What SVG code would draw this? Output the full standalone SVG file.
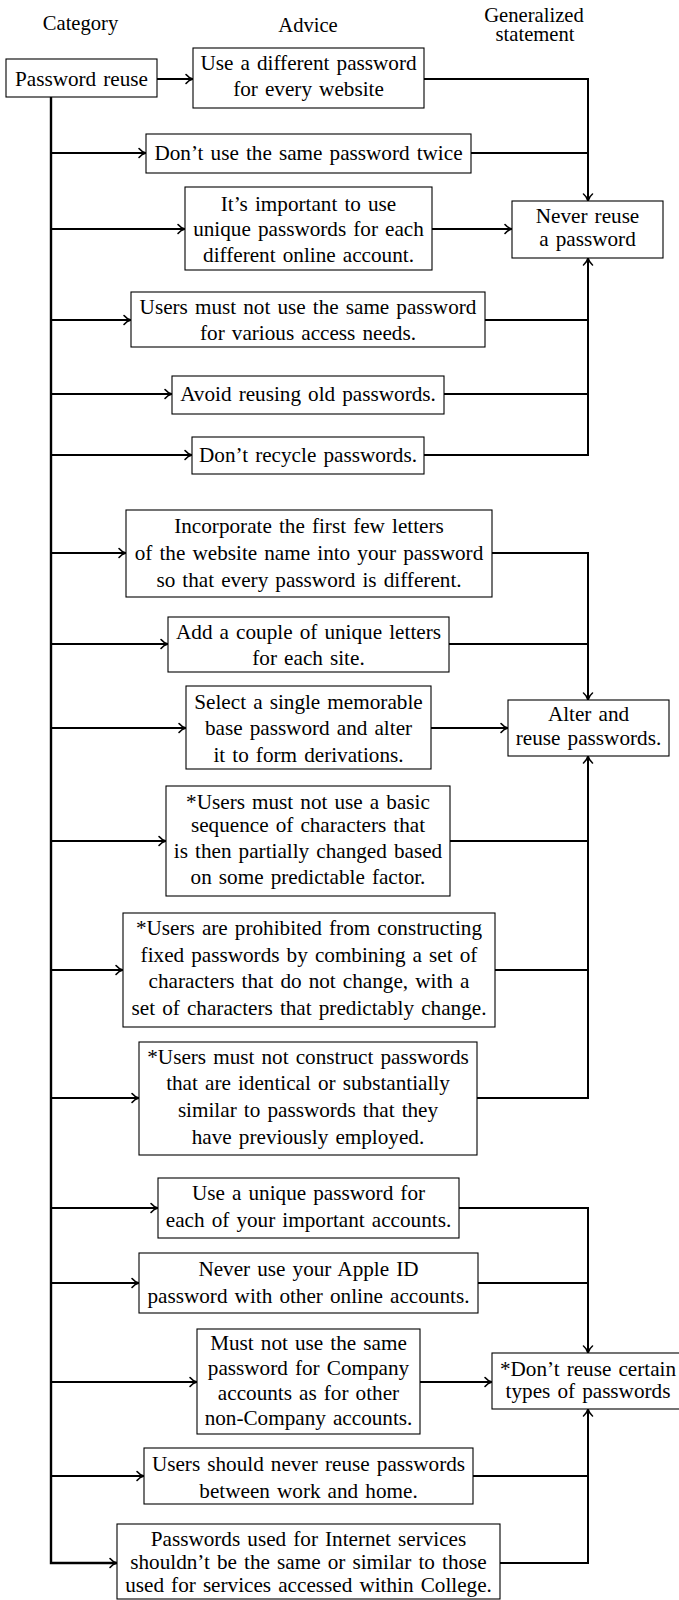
<svg xmlns="http://www.w3.org/2000/svg" width="679" height="1600" viewBox="0 0 679 1600">
<style>
  text { font-family: "Liberation Serif", "Times New Roman", serif; font-size: 21.2px; fill: #000; text-anchor: middle; word-spacing: 1.8px; }
  .hdr { font-size: 20.6px; }
  .box { fill: #fff; stroke: #000; stroke-width: 1.1; }
  .con { fill: none; stroke: #000; stroke-width: 2; stroke-linejoin: miter; }
  .arr { marker-end: url(#tip); }
</style>
<defs>
  <marker id="tip" viewBox="-9 -6 11 12" refX="0" refY="0" markerWidth="11" markerHeight="12" markerUnits="userSpaceOnUse" orient="auto">
    <path d="M-7,-4.5 C-5,-2 -2,-0.5 0,0 C-2,0.5 -5,2 -7,4.5" fill="none" stroke="#000" stroke-width="1.6" stroke-linecap="round"/>
  </marker>
</defs>
<rect width="679" height="1600" fill="#fff"/>

<g id="headers">
  <text class="hdr" x="80.5" y="30">Category</text>
  <text class="hdr" x="308" y="31.5">Advice</text>
  <text class="hdr" x="534" y="21.5">Generalized</text>
  <text class="hdr" x="535" y="40.5">statement</text>
</g>

<g id="connectors">
  <path class="con arr" d="M51,97 V1563 H117" style="stroke-width:2.4"/>
  <path class="con arr" d="M157,79 H193"/>
  <path class="con arr" d="M51,153 H146"/>
  <path class="con arr" d="M51,229 H185"/>
  <path class="con arr" d="M51,320 H131"/>
  <path class="con arr" d="M51,394 H172"/>
  <path class="con arr" d="M51,455 H192"/>
  <path class="con arr" d="M51,553 H126"/>
  <path class="con arr" d="M51,644 H168"/>
  <path class="con arr" d="M51,728 H186"/>
  <path class="con arr" d="M51,841 H166"/>
  <path class="con arr" d="M51,970 H123"/>
  <path class="con arr" d="M51,1098 H139"/>
  <path class="con arr" d="M51,1208 H158"/>
  <path class="con arr" d="M51,1283 H139"/>
  <path class="con arr" d="M51,1382 H197"/>
  <path class="con arr" d="M51,1476 H144"/>

  <path class="con arr" d="M424,79 H588 V201"/>
  <path class="con" d="M471,153 H588"/>
  <path class="con arr" d="M432,229 H512"/>
  <path class="con" d="M485,320 H588"/>
  <path class="con" d="M444,394 H588"/>
  <path class="con arr" d="M424,455 H588 V258"/>

  <path class="con arr" d="M492,553 H588 V700"/>
  <path class="con" d="M449,644 H588"/>
  <path class="con arr" d="M431,728 H508"/>
  <path class="con" d="M450,841 H588"/>
  <path class="con" d="M495,970 H588"/>
  <path class="con arr" d="M477,1098 H588 V756"/>

  <path class="con arr" d="M459,1208 H588 V1353"/>
  <path class="con" d="M478,1283 H588"/>
  <path class="con arr" d="M420,1382 H492"/>
  <path class="con" d="M473,1476 H588"/>
  <path class="con arr" d="M500,1563 H588 V1409"/>
</g>

<g id="n-category">
  <rect class="box" x="6" y="59" width="151" height="38"/>
  <text x="81.5" y="85.5">Password reuse</text>
</g>

<g id="n-a1">
  <rect class="box" x="193" y="48" width="231" height="60"/>
  <text x="308.5" y="69.5">Use a different password</text>
  <text x="308.5" y="96">for every website</text>
</g>
<g id="n-a2">
  <rect class="box" x="146" y="134" width="325" height="39"/>
  <text x="308.5" y="159.5">Don’t use the same password twice</text>
</g>
<g id="n-a3">
  <rect class="box" x="185" y="187" width="247" height="83"/>
  <text x="308.5" y="210.5">It’s important to use</text>
  <text x="308.5" y="236">unique passwords for each</text>
  <text x="308.5" y="262">different online account.</text>
</g>
<g id="n-a4">
  <rect class="box" x="131" y="292" width="354" height="55"/>
  <text x="308" y="313.5">Users must not use the same password</text>
  <text x="308" y="340">for various access needs.</text>
</g>
<g id="n-a5">
  <rect class="box" x="172" y="376" width="272" height="38"/>
  <text x="308" y="400.5">Avoid reusing old passwords.</text>
</g>
<g id="n-a6">
  <rect class="box" x="192" y="437" width="232" height="37"/>
  <text x="308" y="461.5">Don’t recycle passwords.</text>
</g>
<g id="n-g1">
  <rect class="box" x="512" y="201" width="151" height="57"/>
  <text x="587.5" y="223">Never reuse</text>
  <text x="587.5" y="246">a password</text>
</g>

<g id="n-b1">
  <rect class="box" x="126" y="510" width="366" height="87"/>
  <text x="309" y="533">Incorporate the first few letters</text>
  <text x="309" y="560">of the website name into your password</text>
  <text x="309" y="587">so that every password is different.</text>
</g>
<g id="n-b2">
  <rect class="box" x="168" y="617" width="281" height="55"/>
  <text x="308.5" y="638.5">Add a couple of unique letters</text>
  <text x="308.5" y="665">for each site.</text>
</g>
<g id="n-b3">
  <rect class="box" x="186" y="686" width="245" height="83"/>
  <text x="308.5" y="708.5">Select a single memorable</text>
  <text x="308.5" y="735">base password and alter</text>
  <text x="308.5" y="761.5">it to form derivations.</text>
</g>
<g id="n-b4">
  <rect class="box" x="166" y="786" width="284" height="110"/>
  <text x="308" y="808.5">*Users must not use a basic</text>
  <text x="308" y="832">sequence of characters that</text>
  <text x="308" y="857.5">is then partially changed based</text>
  <text x="308" y="884">on some predictable factor.</text>
</g>
<g id="n-b5">
  <rect class="box" x="123" y="913" width="372" height="114"/>
  <text x="309" y="935">*Users are prohibited from constructing</text>
  <text x="309" y="961.5">fixed passwords by combining a set of</text>
  <text x="309" y="988">characters that do not change, with a</text>
  <text x="309" y="1015">set of characters that predictably change.</text>
</g>
<g id="n-b6">
  <rect class="box" x="139" y="1042" width="338" height="113"/>
  <text x="308" y="1063.5">*Users must not construct passwords</text>
  <text x="308" y="1090">that are identical or substantially</text>
  <text x="308" y="1117">similar to passwords that they</text>
  <text x="308" y="1144">have previously employed.</text>
</g>
<g id="n-g2">
  <rect class="box" x="508" y="700" width="161" height="56"/>
  <text x="588.5" y="721">Alter and</text>
  <text x="588.5" y="745">reuse passwords.</text>
</g>

<g id="n-c1">
  <rect class="box" x="158" y="1178" width="301" height="60"/>
  <text x="308.5" y="1200">Use a unique password for</text>
  <text x="308.5" y="1226.5">each of your important accounts.</text>
</g>
<g id="n-c2">
  <rect class="box" x="139" y="1253" width="339" height="60"/>
  <text x="308.5" y="1275.5">Never use your Apple ID</text>
  <text x="308.5" y="1302.5">password with other online accounts.</text>
</g>
<g id="n-c3">
  <rect class="box" x="197" y="1329" width="223" height="105"/>
  <text x="308.5" y="1350">Must not use the same</text>
  <text x="308.5" y="1374.5">password for Company</text>
  <text x="308.5" y="1400">accounts as for other</text>
  <text x="308.5" y="1424.5">non-Company accounts.</text>
</g>
<g id="n-c4">
  <rect class="box" x="144" y="1448" width="329" height="56"/>
  <text x="308.5" y="1470.5">Users should never reuse passwords</text>
  <text x="308.5" y="1497.5">between work and home.</text>
</g>
<g id="n-c5">
  <rect class="box" x="117" y="1524" width="383" height="75"/>
  <text x="308.5" y="1545.5">Passwords used for Internet services</text>
  <text x="308.5" y="1568.5">shouldn’t be the same or similar to those</text>
  <text x="308.5" y="1591.5">used for services accessed within College.</text>
</g>
<g id="n-g3">
  <rect class="box" x="492" y="1353" width="192" height="56"/>
  <text x="588" y="1375.5">*Don’t reuse certain</text>
  <text x="588" y="1397.5">types of passwords</text>
</g>
</svg>
